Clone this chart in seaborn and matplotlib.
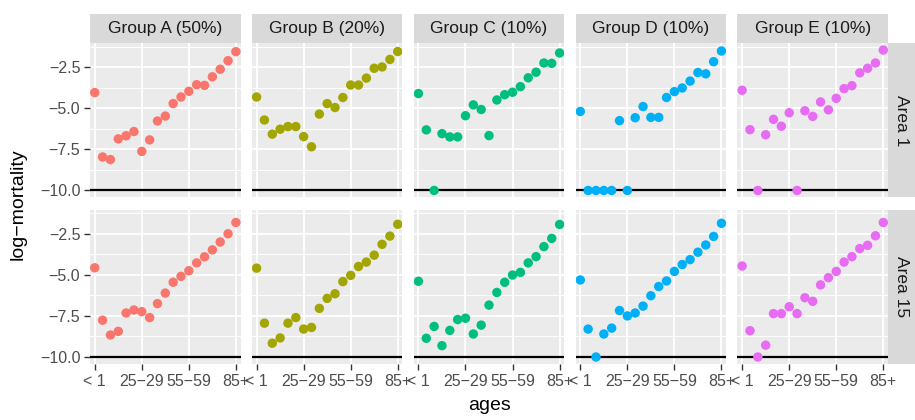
#!/usr/bin/env python3
"""Log-mortality by age group, faceted by group (columns) and area (rows)."""

import numpy as np
import pandas as pd
import seaborn as sns
import matplotlib.pyplot as plt
from matplotlib.patches import Rectangle

ages = ["< 1", "1\u22124", "5\u22129", "10\u221214", "15\u221219", "20\u221224",
        "25\u221229", "30\u221234", "35\u221239", "40\u221244", "45\u221249",
        "50\u221254", "55\u221259", "60\u221264", "65\u221269", "70\u221274",
        "75\u221279", "80\u221284", "85+"]
shown_ages = ["< 1", "25\u221229", "55\u221259", "85+"]

groups = ["Group A (50%)", "Group B (20%)", "Group C (10%)", "Group D (10%)", "Group E (10%)"]
areas = ["Area 1", "Area 15"]
palette = ["#F8766D", "#A3A500", "#00BF7D", "#00B0F6", "#E76BF3"]

# Area 1
a1_group_a = [-4.04, -7.96, -8.12, -6.86, -6.67, -6.41, -7.62, -6.92, -5.77, -5.47,
              -4.71, -4.31, -3.96, -3.56, -3.60, -3.08, -2.62, -2.10, -1.55]
a1_group_b = [-4.31, -5.71, -6.57, -6.27, -6.11, -6.11, -6.72, -7.34, -5.35, -4.71,
              -4.95, -4.34, -3.58, -3.58, -3.16, -2.56, -2.48, -2.02, -1.54]
a1_group_c = [-4.10, -6.31, -10.0, -6.54, -6.74, -6.74, -5.45, -4.79, -5.07, -6.66,
              -4.49, -4.17, -4.02, -3.68, -3.14, -2.80, -2.24, -2.26, -1.63]
a1_group_d = [-5.19, -10.0, -10.0, -10.0, -10.0, -5.75, -10.0, -5.57, -4.89, -5.55,
              -5.55, -4.34, -3.98, -3.76, -3.34, -2.82, -2.90, -2.16, -1.51]
a1_group_e = [-3.90, -6.30, -10.0, -6.61, -5.67, -6.09, -5.27, -10.0, -5.15, -5.49,
              -4.61, -5.09, -4.39, -3.80, -3.62, -2.84, -2.56, -2.24, -1.45]

# Area 15
a15_group_a = [-4.57, -7.76, -8.66, -8.44, -7.32, -7.14, -7.24, -7.60, -6.75, -6.11,
               -5.45, -5.09, -4.75, -4.27, -3.90, -3.48, -3.00, -2.50, -1.81]
a15_group_b = [-4.59, -7.94, -9.16, -8.84, -7.94, -7.60, -8.30, -8.20, -7.04, -6.43,
               -6.15, -5.41, -5.03, -4.49, -4.22, -3.80, -3.14, -2.64, -1.92]
a15_group_c = [-5.39, -8.86, -8.14, -9.31, -8.38, -7.72, -7.64, -8.60, -8.06, -6.84,
               -6.07, -5.45, -5.01, -4.85, -4.27, -3.89, -3.28, -2.78, -1.93]
a15_group_d = [-5.31, -8.30, -10.0, -8.60, -8.24, -7.17, -7.50, -7.32, -6.90, -6.27,
               -5.71, -5.37, -4.79, -4.37, -4.07, -3.62, -3.18, -2.66, -1.86]
a15_group_e = [-4.46, -8.40, -10.0, -9.28, -7.36, -7.36, -6.94, -7.36, -6.39, -6.61,
               -5.61, -5.17, -4.79, -4.22, -3.89, -3.40, -3.20, -2.62, -1.81]

series = {
    ("Area 1", groups[0]): a1_group_a, ("Area 1", groups[1]): a1_group_b,
    ("Area 1", groups[2]): a1_group_c, ("Area 1", groups[3]): a1_group_d,
    ("Area 1", groups[4]): a1_group_e,
    ("Area 15", groups[0]): a15_group_a, ("Area 15", groups[1]): a15_group_b,
    ("Area 15", groups[2]): a15_group_c, ("Area 15", groups[3]): a15_group_d,
    ("Area 15", groups[4]): a15_group_e,
}

floor_value = -10.0


def build_frame() -> pd.DataFrame:
    rows = []
    for (area, group), values in series.items():
        for i, v in enumerate(values):
            rows.append({"area": area, "group": group, "age_idx": i, "age": ages[i], "value": v})
    return pd.DataFrame(rows)


def main():
    df = build_frame()

    sns.set_theme(style="darkgrid")
    plt.rcParams["font.family"] = ["Liberation Sans", "DejaVu Sans"]

    fig, axes = plt.subplots(2, 5, figsize=(9.15, 4.2), dpi=100, sharex=True, sharey=True)
    fig.subplots_adjust(left=0.0984, right=0.9705, top=0.8976, bottom=0.1333,
                        wspace=0.075, hspace=0.078)

    vmax = df["value"].max()
    vmin = min(df["value"].min(), floor_value)
    pad = 0.05 * (vmax - vmin)
    tick_pos = [ages.index(a) for a in shown_ages]

    for r, area in enumerate(areas):
        for c, group in enumerate(groups):
            ax = axes[r, c]
            ax.set_facecolor("#EBEBEB")
            sub = df[(df["area"] == area) & (df["group"] == group)]
            ax.axhline(floor_value, color="black", lw=1.6, zorder=2)
            sns.scatterplot(data=sub, x="age_idx", y="value", ax=ax, color=palette[c],
                            s=46, edgecolor="none", linewidth=0, zorder=3, legend=False)
            ax.set_xlim(-0.6, len(ages) - 0.4)
            ax.set_ylim(vmin - pad, vmax + pad)
            ax.set_xticks(tick_pos)
            ax.set_xticklabels(shown_ages)
            ax.set_yticks([-2.5, -5.0, -7.5, -10.0])
            ax.set_yticks([-1.25, -3.75, -6.25, -8.75], minor=True)
            ax.grid(which="major", color="white", lw=1.3)
            ax.grid(which="minor", axis="y", color="white", lw=0.7)
            ax.grid(which="minor", axis="x", visible=False)
            for s in ax.spines.values():
                s.set_visible(False)
            ax.tick_params(which="major", length=4, width=1, color="#333333",
                           labelcolor="#4D4D4D", labelsize=11.5, pad=3,
                           bottom=(r == 1), left=(c == 0))
            ax.tick_params(which="minor", length=0)
            ax.set_xlabel("")
            ax.set_ylabel("")
            if c == 0:
                ax.set_yticklabels(["\u22122.5", "\u22125.0", "\u22127.5", "\u221210.0"])

            if r == 0:
                ax.add_patch(Rectangle((0, 1.0), 1, 0.19, transform=ax.transAxes,
                                       facecolor="#D9D9D9", edgecolor="none", clip_on=False))
                ax.text(0.5, 1.095, group, transform=ax.transAxes, ha="center", va="center",
                        fontsize=12.5, color="#1A1A1A")
            if c == len(groups) - 1:
                ax.add_patch(Rectangle((1.0, 0), 0.18, 1, transform=ax.transAxes,
                                       facecolor="#D9D9D9", edgecolor="none", clip_on=False))
                ax.text(1.09, 0.5, area, transform=ax.transAxes, ha="center", va="center",
                        rotation=-90, fontsize=12.5, color="#1A1A1A")

    fig.text(0.5345, 0.035, "ages", ha="center", va="center", fontsize=14, color="black")
    fig.text(0.02, 0.515, "log\u2212mortality", ha="center", va="center", rotation=90,
             fontsize=14, color="black")

    fig.savefig("out.png", dpi=100)


if __name__ == "__main__":
    main()
